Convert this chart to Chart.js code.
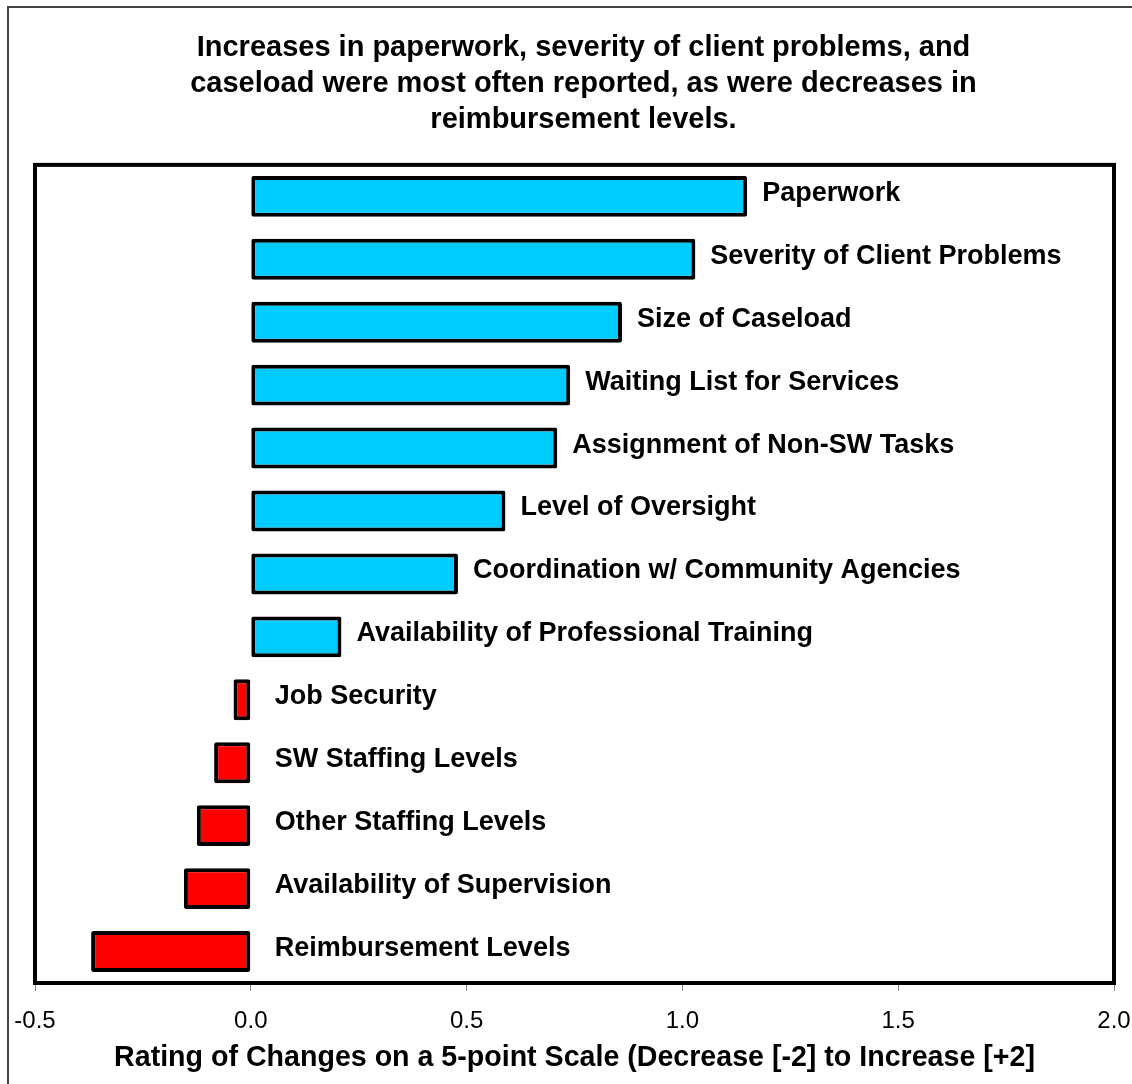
<!DOCTYPE html>
<html>
<head>
<meta charset="utf-8">
<script src="https://cdn.jsdelivr.net/npm/chart.js@4/dist/chart.umd.min.js"></script>
<style>
  html, body { margin: 0; padding: 0; background: #fff; }
  #wrap { width: 1132px; height: 1084px; position: relative; }
</style>
</head>
<body>
<div id="wrap"><canvas id="c" width="1132" height="1084"></canvas></div>
<script>
const categories = [
  "Paperwork",
  "Severity of Client Problems",
  "Size of Caseload",
  "Waiting List for Services",
  "Assignment of Non-SW Tasks",
  "Level of Oversight",
  "Coordination w/ Community Agencies",
  "Availability of Professional Training",
  "Job Security",
  "SW Staffing Levels",
  "Other Staffing Levels",
  "Availability of Supervision",
  "Reimbursement Levels"
];
const ratings = [1.15, 1.03, 0.86, 0.74, 0.71, 0.59, 0.48, 0.21, -0.04, -0.085, -0.125, -0.155, -0.37];
const xTicks = [-0.5, 0.0, 0.5, 1.0, 1.5, 2.0];
const titleLines = [
  "Increases in paperwork, severity of client problems, and",
  "caseload were most often reported, as were decreases in",
  "reimbursement levels."
];
const xAxisTitle = "Rating of Changes on a 5-point Scale (Decrease [-2] to Increase [+2]";

const FONT = "'Liberation Sans', Arial, Helvetica, sans-serif";

const framePlugin = {
  id: 'frame',
  beforeDraw(chart) {
    const ctx = chart.ctx;
    ctx.save();
    ctx.fillStyle = '#fff';
    ctx.fillRect(0, 0, chart.width, chart.height);
    ctx.strokeStyle = '#444';
    ctx.lineWidth = 2;
    ctx.beginPath();
    ctx.moveTo(8, chart.height + 5);
    ctx.lineTo(8, 7);
    ctx.lineTo(chart.width + 5, 7);
    ctx.stroke();
    ctx.restore();
  },
  afterDatasetsDraw(chart) {
    const ctx = chart.ctx;
    const a = chart.chartArea;
    const xs = chart.scales.x;
    const zero = xs.getPixelForValue(0);
    ctx.save();
    ctx.font = "bold 27px " + FONT;
    ctx.fillStyle = '#000';
    ctx.textBaseline = 'middle';
    ctx.textAlign = 'left';
    const meta = chart.getDatasetMeta(0);
    meta.data.forEach((bar, i) => {
      const v = ratings[i];
      const x = v >= 0 ? bar.x + 15 : zero + 24;
      ctx.fillText(categories[i], x, bar.y - 3);
    });
    ctx.strokeStyle = '#000';
    ctx.lineWidth = 4;
    ctx.strokeRect(a.left, a.top, a.right - a.left, a.bottom - a.top);
    ctx.restore();
  }
};

new Chart(document.getElementById('c'), {
  type: 'bar',
  data: {
    labels: categories,
    datasets: [{
      data: ratings,
      backgroundColor: ratings.map(v => v >= 0 ? '#00CCFF' : '#FF0000'),
      borderColor: '#000',
      borderWidth: 4,
      borderRadius: 2,
      borderSkipped: false,
      barPercentage: 0.65,
      categoryPercentage: 1.0
    }]
  },
  options: {
    indexAxis: 'y',
    responsive: false,
    animation: false,
    devicePixelRatio: 1,
    layout: { padding: { left: 35, right: 0, top: 0, bottom: 9 } },
    plugins: {
      legend: { display: false },
      tooltip: { enabled: false },
      title: {
        display: true,
        text: titleLines,
        color: '#000',
        font: { family: FONT, size: 29, weight: 'bold', lineHeight: 1.24 },
        padding: { top: 30, bottom: 27 }
      }
    },
    scales: {
      y: { display: false },
      x: {
        type: 'linear',
        min: -0.5,
        max: 2.0,
        afterBuildTicks(scale) { scale.ticks = xTicks.map(v => ({ value: v })); },
        afterFit(scale) { scale.paddingRight = 18; scale.paddingLeft = 0; scale.height = 92; },
        grid: { display: true, drawOnChartArea: false, drawTicks: true, tickLength: 8, color: '#888', lineWidth: 1 },
        border: { display: false },
        ticks: {
          color: '#000',
          padding: 16,
          maxRotation: 0,
          font: { family: FONT, size: 24 },
          callback: v => Number(v).toFixed(1)
        },
        title: {
          display: true,
          text: xAxisTitle,
          color: '#000',
          font: { family: FONT, size: 28.6, weight: 'bold' },
          padding: { top: 4, bottom: 0 }
        }
      }
    }
  },
  plugins: [framePlugin]
});
</script>
</body>
</html>
